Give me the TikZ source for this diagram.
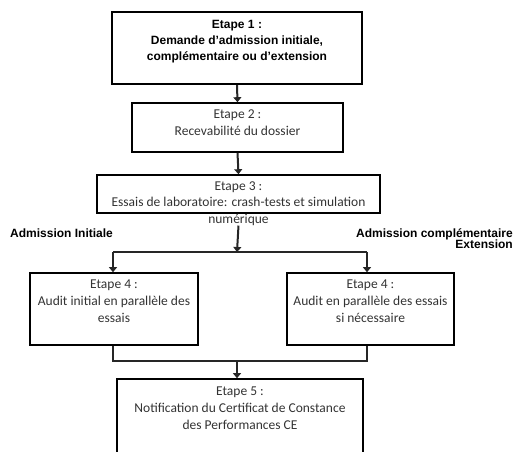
\documentclass[tikz,border=0pt]{standalone}
\usepackage{fontspec}
\setmainfont{Carlito}
\newfontfamily\headfont{Liberation Sans}
\usetikzlibrary{positioning,arrows.meta}

\tikzset{
  stepbox/.style={draw=black, line width=1.6pt, inner sep=0pt},
  steptext/.style={align=center, text=black!80, inner sep=0pt,
    font=\fontsize{13.5}{17}\selectfont},
  headtext/.style={align=center, inner sep=0pt,
    font=\headfont\bfseries\fontsize{12}{16}\selectfont},
  link/.style={line width=2pt, black!85},
  arr/.style={link, -{Triangle[length=5pt,width=8pt]}},
}

\begin{document}
\begin{tikzpicture}[x=1pt,y=-1pt]
\path[use as bounding box, clip] (0,0) rectangle (515,452);

% the steps
\node[stepbox, line width=2.4pt, minimum width=250pt, minimum height=72pt] (e1) at (237,48) {};
\node[stepbox, minimum width=211pt, minimum height=49pt] (e2) at (237.5,127.5) {};
\node[stepbox, minimum width=283pt, minimum height=38pt] (e3) at (238.5,194) {};
\node[stepbox, minimum width=168pt, minimum height=72pt] (e4a) at (114,309) {};
\node[stepbox, minimum width=167pt, minimum height=72pt] (e4b) at (370.5,309) {};
\node[stepbox, minimum width=246pt, minimum height=100pt] (e5) at (240,429) {};

\node[headtext, below=9pt of e1.north] (t1) {Etape 1 :\\Demande d’admission initiale,\\complémentaire ou d’extension};
\node[steptext, below=7.5pt of e2.north] (t2) {Etape 2 :\\Recevabilité du dossier};
\node[steptext, below=7pt of e3.north, font=\fontsize{13.5}{16.5}\selectfont] (t3) {Etape 3 :\\Essais de laboratoire: crash-tests et simulation\\numérique};
\node[steptext, below=7.5pt of e4a.north] (t4a) {Etape 4 :\\Audit initial en parallèle des\\essais};
\node[steptext, below=7.5pt of e4b.north] (t4b) {Etape 4 :\\Audit en parallèle des essais\\si nécessaire};
\node[steptext, below=8pt of e5.north] (t5) {Etape 5 :\\Notification du Certificat de Constance\\des Performances CE};

% the two routes
\node[headtext, anchor=west] (initiale) at (10,233) {Admission Initiale};
\node[headtext, anchor=east, align=right, font=\headfont\bfseries\fontsize{12}{11.5}\selectfont] (complement) at (513,238.5) {Admission complémentaire\\Extension};

\coordinate (split) at (237,252);
\coordinate (splitL) at (113,252);
\coordinate (splitR) at (367,252);
\coordinate (join) at (237,361);
\coordinate (joinL) at (113,361);
\coordinate (joinR) at (367,361);

\draw[arr] (e1.south) -- (e2.north);
\draw[arr] (e2.south) -- (e3.north);
\draw[arr] (e3.south |- t3.south) -- (split);
\draw[link] (splitL) -- (splitR);
\draw[arr] (splitL) -- (splitL |- e4a.north);
\draw[arr] (splitR) -- (splitR |- e4b.north);
\draw[link] (e4a.south -| joinL) -- (joinL) -- (joinR) -- (e4b.south -| joinR);
\draw[arr] (join) -- (join |- e5.north);
\end{tikzpicture}
\end{document}
